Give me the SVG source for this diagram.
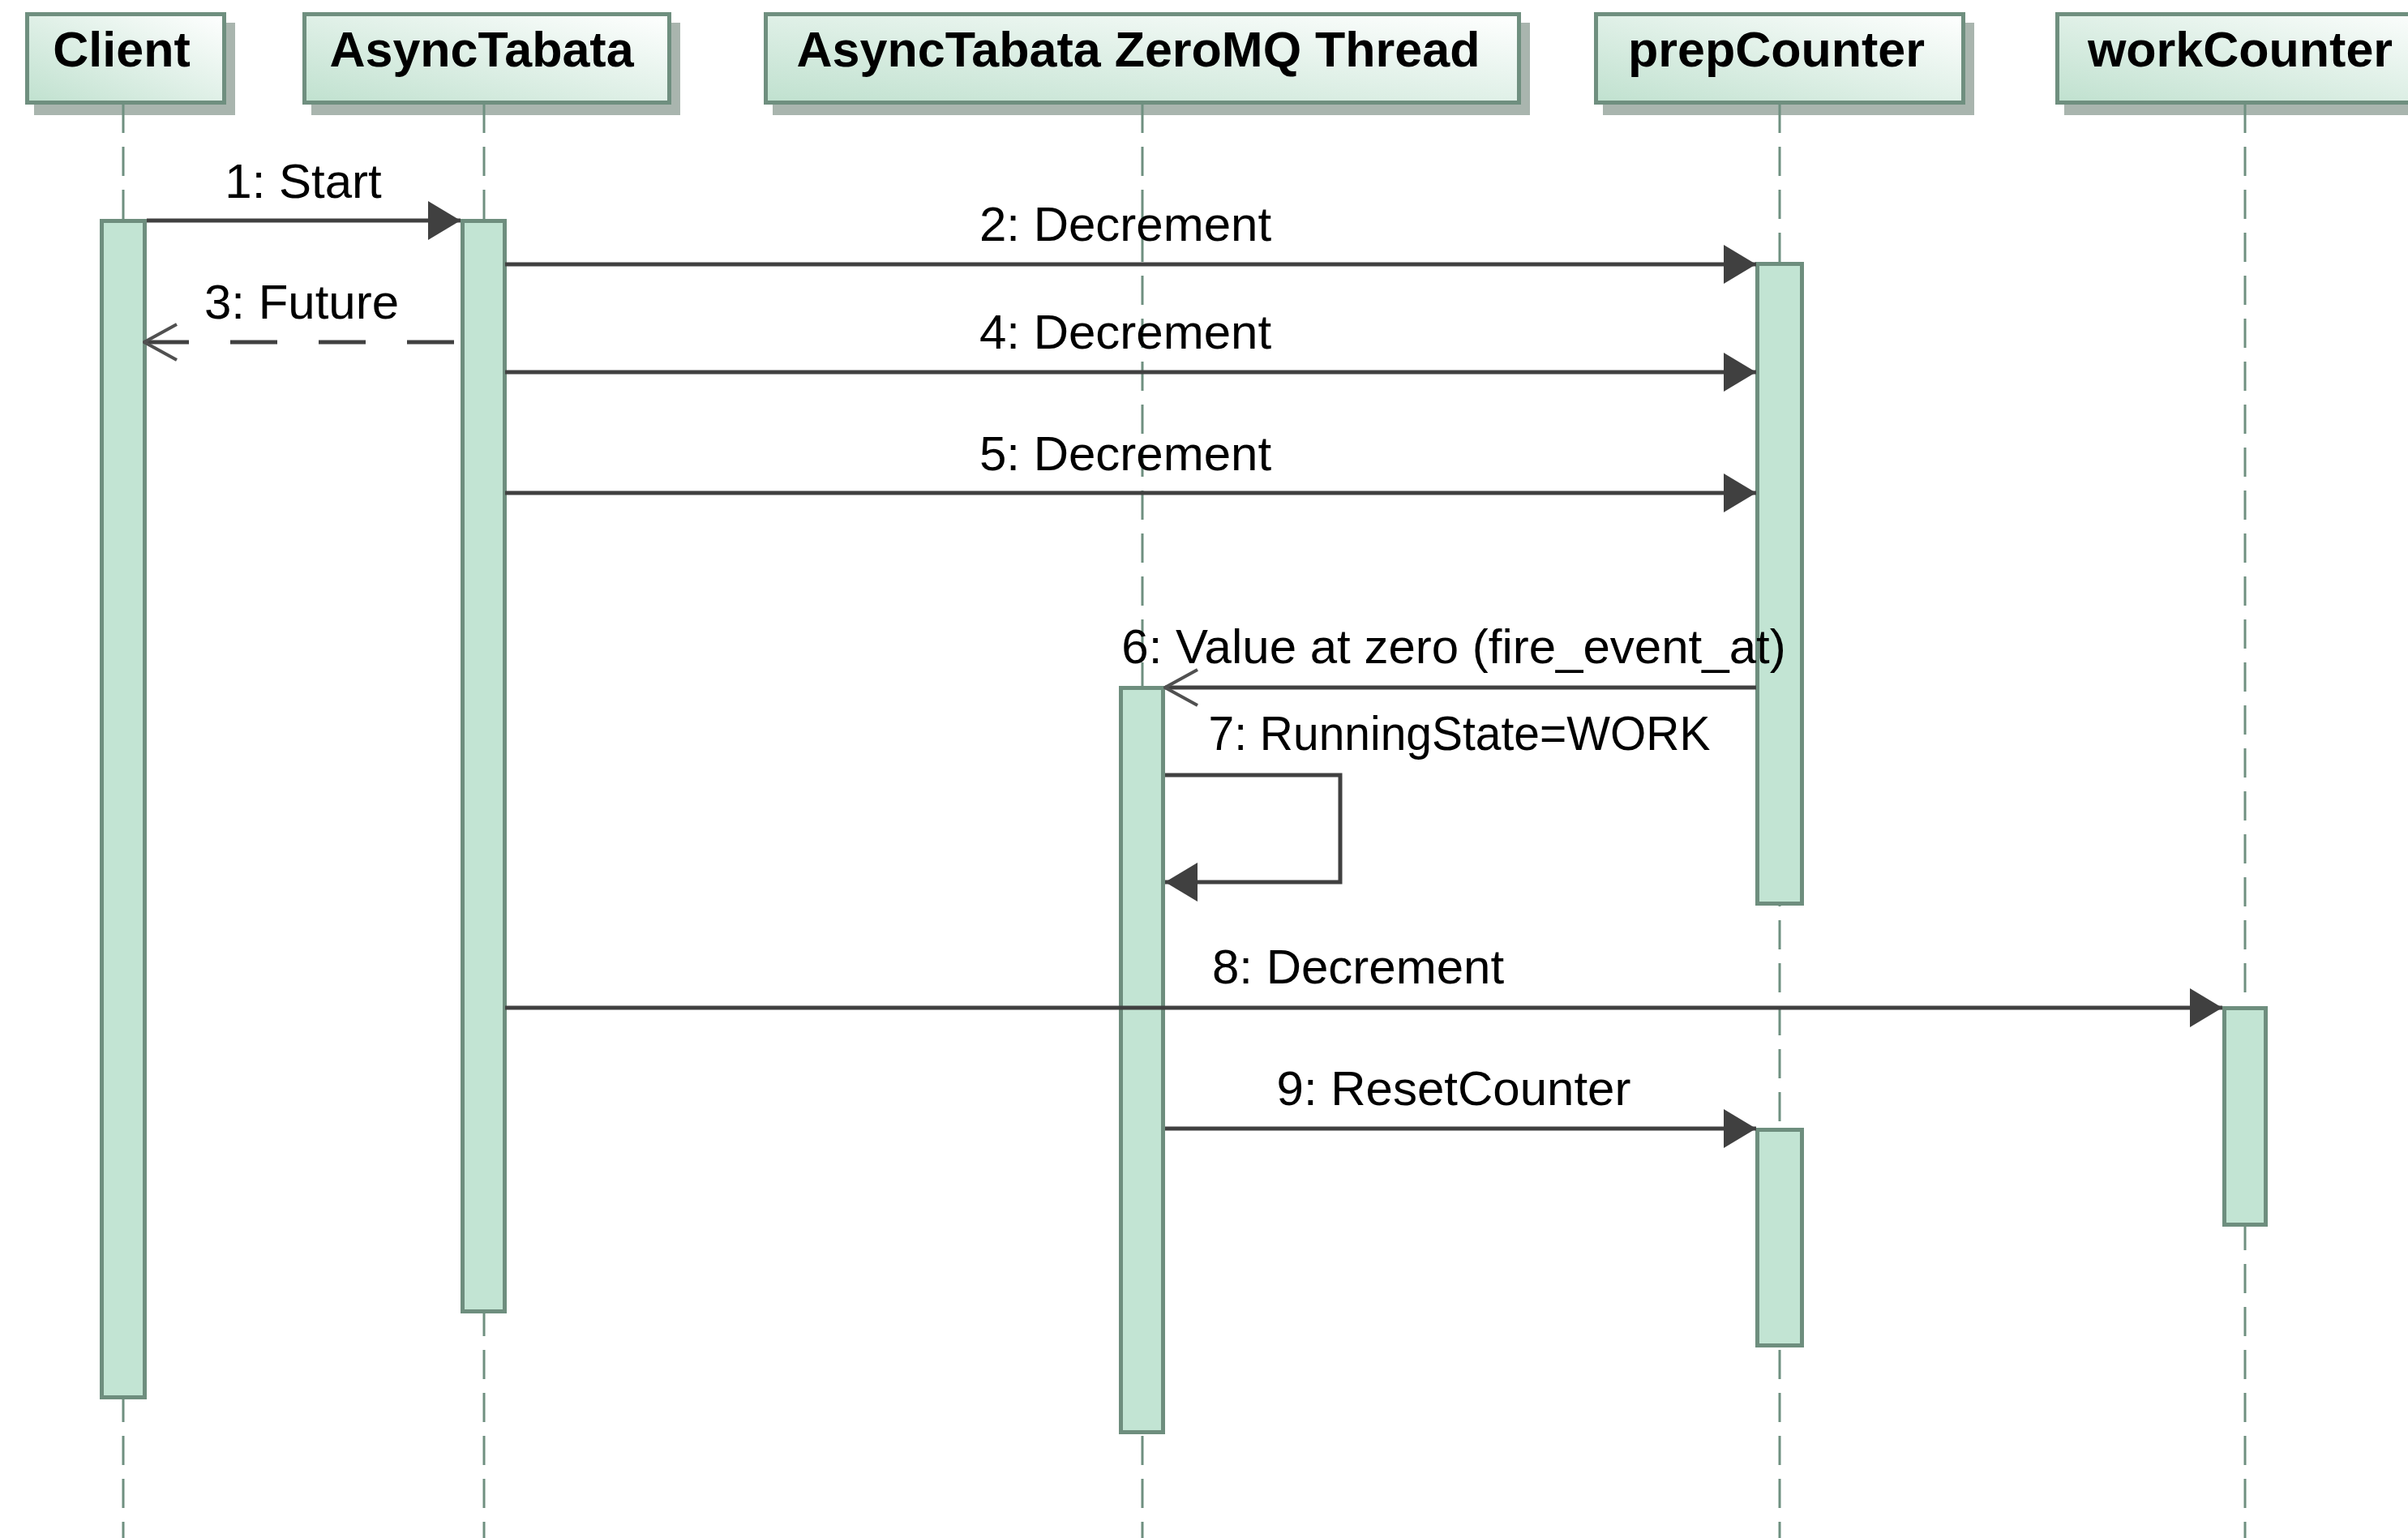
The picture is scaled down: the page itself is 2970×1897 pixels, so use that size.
<svg xmlns="http://www.w3.org/2000/svg" width="2970" height="1897" viewBox="0 0 2970 1897">
  <defs>
    <linearGradient id="headFill" x1="0" y1="1" x2="1" y2="0">
      <stop offset="0" stop-color="#c0e1cf"/>
      <stop offset="1" stop-color="#ffffff"/>
    </linearGradient>
    <marker id="solidHead" viewBox="0 0 40 48" refX="40" refY="24" markerWidth="40" markerHeight="48" markerUnits="userSpaceOnUse" orient="auto">
      <path d="M0,0 L40,24 L0,48 Z" fill="#404040"/>
    </marker>
    <marker id="openHead" viewBox="0 0 44 52" refX="42" refY="26" markerWidth="44" markerHeight="52" markerUnits="userSpaceOnUse" orient="auto">
      <path d="M2,4 L42,26 L2,48" fill="none" stroke="#505050" stroke-width="4"/>
    </marker>
  </defs>
  <style>
    .shadow { fill: #a9b5ae; }
    .head { fill: url(#headFill); stroke: #6f8f7f; stroke-width: 5; }
    .headText { font-family: "Liberation Sans", Arial, sans-serif; font-weight: bold; font-size: 61px; fill: #000; text-anchor: middle; }
    .life { stroke: #6f9080; stroke-width: 3; stroke-dasharray: 36 17; fill: none; }
    .act { fill: #c2e4d3; stroke: #6e8e7e; stroke-width: 5; }
    .msg { stroke: #404040; stroke-width: 5; fill: none; }
    .sync { marker-end: url(#solidHead); }
    .reply { stroke-dasharray: 58 51; marker-end: url(#openHead); }
    .async { marker-end: url(#openHead); }
    .label { font-family: "Liberation Sans", Arial, sans-serif; font-size: 60px; fill: #000; text-anchor: middle; }
  </style>

  <rect width="2970" height="1897" fill="#ffffff"/>

  <!-- participants: header, lifeline, activation bars -->
  <g id="client">
    <rect class="shadow" x="42" y="28" width="248" height="114"/>
    <rect class="head" x="33.5" y="17.5" width="243" height="109"/>
    <text class="headText" x="150" y="82">Client</text>
    <line class="life" x1="152" y1="128" x2="152" y2="1897"/>
    <rect class="act" x="125.5" y="272.5" width="53" height="1451"/>
  </g>

  <g id="asyncTabata">
    <rect class="shadow" x="384" y="28" width="455" height="114"/>
    <rect class="head" x="375.5" y="17.5" width="450" height="109"/>
    <text class="headText" x="594" y="82">AsyncTabata</text>
    <line class="life" x1="597" y1="128" x2="597" y2="1897"/>
    <rect class="act" x="570.5" y="272.5" width="52" height="1345"/>
  </g>

  <g id="zeromqThread">
    <rect class="shadow" x="953" y="28" width="934" height="114"/>
    <rect class="head" x="944.5" y="17.5" width="929" height="109"/>
    <text class="headText" x="1404" y="82">AsyncTabata ZeroMQ Thread</text>
    <line class="life" x1="1409" y1="128" x2="1409" y2="1897"/>
    <rect class="act" x="1382.5" y="848.5" width="52" height="918"/>
  </g>

  <g id="prepCounter">
    <rect class="shadow" x="1977" y="28" width="458" height="114"/>
    <rect class="head" x="1968.5" y="17.5" width="453" height="109"/>
    <text class="headText" x="2191" y="82">prepCounter</text>
    <line class="life" x1="2195" y1="128" x2="2195" y2="1897"/>
    <rect class="act" x="2167.5" y="325.5" width="55" height="789"/>
    <rect class="act" x="2167.5" y="1393.5" width="55" height="266"/>
  </g>

  <g id="workCounter">
    <rect class="shadow" x="2546" y="28" width="505" height="114"/>
    <rect class="head" x="2537.5" y="17.5" width="500" height="109"/>
    <text class="headText" x="2763" y="82">workCounter</text>
    <line class="life" x1="2769" y1="128" x2="2769" y2="1897"/>
    <rect class="act" x="2743.5" y="1243.5" width="51" height="267"/>
  </g>

  <!-- messages -->
  <g id="connectors">
    <line class="msg sync" x1="181" y1="272" x2="568" y2="272"/>
    <text class="label" x="374" y="244">1: Start</text>

    <line class="msg sync" x1="623" y1="326" x2="2166" y2="326"/>
    <text class="label" x="1388" y="297">2: Decrement</text>

    <line class="msg reply" x1="560" y1="422" x2="178" y2="422"/>
    <text class="label" x="372" y="393">3: Future</text>

    <line class="msg sync" x1="623" y1="459" x2="2166" y2="459"/>
    <text class="label" x="1388" y="430">4: Decrement</text>

    <line class="msg sync" x1="623" y1="608" x2="2166" y2="608"/>
    <text class="label" x="1388" y="580">5: Decrement</text>

    <line class="msg async" x1="2166" y1="848" x2="1437" y2="848"/>
    <text class="label" x="1793" y="818">6: Value at zero (fire_event_at)</text>

    <polyline class="msg sync" points="1437,956 1653,956 1653,1088 1437,1088"/>
    <text class="label" x="1800" y="925" textLength="619" lengthAdjust="spacingAndGlyphs">7: RunningState=WORK</text>

    <line class="msg sync" x1="623" y1="1243" x2="2741" y2="1243"/>
    <text class="label" x="1675" y="1213">8: Decrement</text>

    <line class="msg sync" x1="1437" y1="1392" x2="2166" y2="1392"/>
    <text class="label" x="1793" y="1363">9: ResetCounter</text>
  </g>
</svg>
